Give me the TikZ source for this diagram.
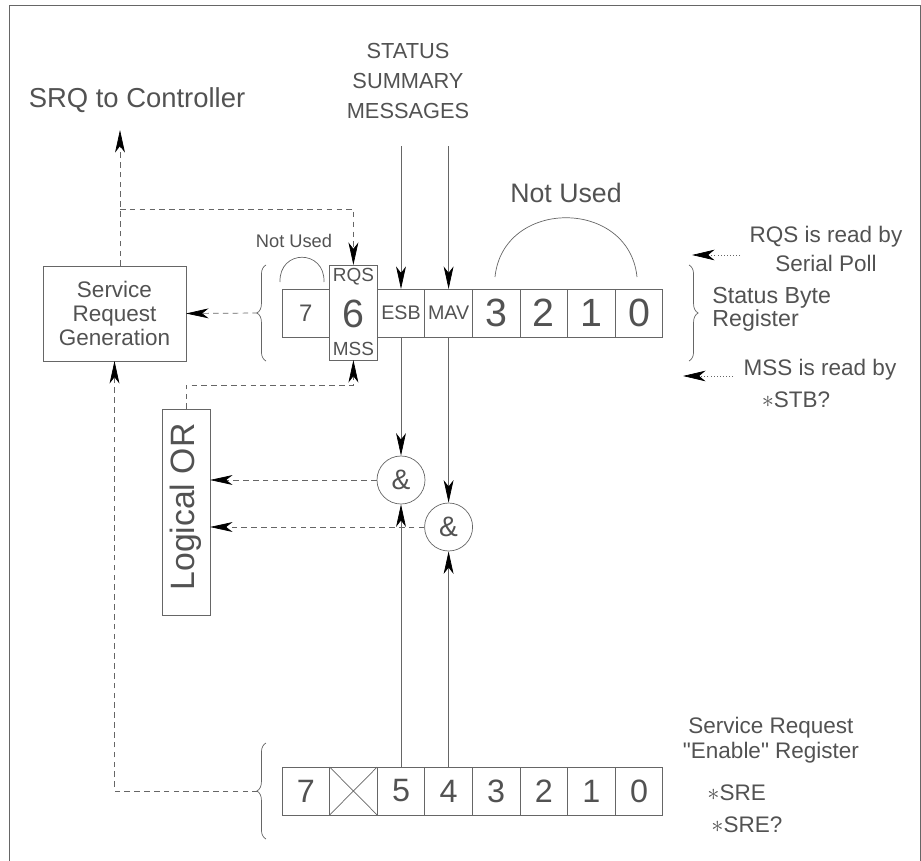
\documentclass[tikz,border=0pt]{standalone}
\usepackage{fontspec}
\setmainfont{Liberation Sans}[Ligatures=TeXOff]
\usetikzlibrary{arrows.meta, decorations.pathreplacing}

\begin{document}
\begin{tikzpicture}[
    x=0.025cm, y=-0.025cm,
    line width=0.5pt,
    every node/.style={text=black!68},
    box/.style={draw=black!60, inner sep=0pt, outer sep=0pt},
    cell/.style={box, minimum width=1.19cm, minimum height=1.2cm},
    gate/.style={circle, draw=black!60, minimum size=1.2cm, inner sep=0pt, font=\fontsize{20}{20}\selectfont},
    wire/.style={draw=black!60, -{Stealth[length=16pt, width=7pt, inset=4.5pt, black]}},
    dashwire/.style={wire, dash pattern=on 4pt off 3pt},
    dotwire/.style={draw=black!60, dash pattern=on 0.6pt off 1.6pt, -{Stealth[length=16pt, width=7.5pt, inset=4.5pt, black]}},
    curly/.style={draw=black!60, decorate, decoration={brace, amplitude=6.5pt, aspect=0.5}},
    bigtxt/.style={font=\fontsize{19.5}{23}\selectfont},
    midtxt/.style={font=\fontsize{16}{17}\selectfont, align=center},
    digit/.style={font=\fontsize{28}{28}\selectfont},
    endigit/.style={font=\fontsize{23}{23}\selectfont},
    tag/.style={font=\fontsize{14}{14}\selectfont},
  ]
  \useasboundingbox (0,0) rectangle (921,861);
  % frame
  \draw[black!60] (9,861) -- (9,5) -- (920,5) -- (920,861);

  % --- texts ---
  \node[bigtxt] (srq) at (137,100) {SRQ to Controller};
  \node[font=\fontsize{15.5}{21.5}\selectfont, align=center] (msgs) at (408,81) {STATUS\\SUMMARY\\MESSAGES};
  \node[font=\fontsize{13}{13}\selectfont] (nu1) at (294,241) {Not Used};
  \node[font=\fontsize{19}{19}\selectfont] (nu2) at (566,193) {Not Used};
  \node[font=\fontsize{16}{20}\selectfont, align=center] (rqsread) at (826,249) {RQS is read by\\Serial Poll};
  \node[font=\fontsize{16.5}{16.5}\selectfont, align=left, anchor=west, inner sep=0pt] (sbreg) at (712,309) {Status Byte\\Register};
  \node[font=\fontsize{16}{16}\selectfont] (mssread) at (820,370) {MSS is read by};
  \node[font=\fontsize{16}{16}\selectfont] (stb) at (796,400) {$\ast$STB?};
  \node[font=\fontsize{16}{17.8}\selectfont, align=center] (srereg) at (771,740) {Service Request\\"Enable" Register};
  \node[font=\fontsize{16}{16}\selectfont, anchor=west, inner sep=0pt] (sre) at (707,793) {$\ast$SRE};
  \node[font=\fontsize{16}{16}\selectfont, anchor=west, inner sep=0pt] (sreq) at (711,825) {$\ast$SRE?};

  % --- Service Request Generation and Logical OR ---
  \node[box, midtxt, minimum width=3.575cm, minimum height=2.375cm] (srg) at (114.5,313.5) {Service\\Request\\Generation};
  \node[box, minimum width=1.2cm, minimum height=5.15cm] (lor) at (186,512) {};
  \node[rotate=90, font=\fontsize{24}{24}\selectfont] (lortxt) at (186,507) {Logical OR};

  % --- status byte register ---
  \node[cell, font=\fontsize{17}{17}\selectfont] (s7) at (305.8,313) {7};
  \node[box, minimum width=1.19cm, minimum height=2.375cm] (rqs6) at (353.4,312.5) {};
  \node[digit] (six) at (353.4,314) {6};
  \node[font=\fontsize{13.5}{13.5}\selectfont] (rqslbl) at (353.4,277) {RQS};
  \node[font=\fontsize{13.5}{13.5}\selectfont] (msslbl) at (353.4,349) {MSS};
  \node[cell, tag] (esb) at (401,313) {ESB};
  \node[cell, tag] (mav) at (448.6,313) {MAV};
  \node[cell, digit] (s3) at (496.2,313) {3};
  \node[cell, digit] (s2) at (543.8,313) {2};
  \node[cell, digit] (s1) at (591.4,313) {1};
  \node[cell, digit] (s0) at (639,313) {0};

  % --- enable register ---
  \node[cell, endigit] (e7) at (305.8,791) {7};
  \node[cell] (ex) at (353.4,791) {};
  \draw[black!60] (ex.north west) -- (ex.south east) (ex.north east) -- (ex.south west);
  \node[cell, endigit] (e5) at (401,791) {5};
  \node[cell, endigit] (e4) at (448.6,791) {4};
  \node[cell, endigit] (e3) at (496.2,791) {3};
  \node[cell, endigit] (e2) at (543.8,791) {2};
  \node[cell, endigit] (e1) at (591.4,791) {1};
  \node[cell, endigit] (e0) at (639,791) {0};

  % --- AND gates ---
  \node[gate] (andA) at (401,480) {\&};
  \node[gate] (andB) at (448.6,527) {\&};

  % braces and arcs
  \draw[curly] (266,361) -- (266,265);
  \draw[curly] (689,265) -- (689,361);
  \draw[curly] (266,839) -- (266,743);
  \draw[black!60] (280,282) .. controls (279,249) and (325,249) .. (324,282);
  \draw[black!60] (495,277) .. controls (503,198) and (629,198) .. (637,277);

  \coordinate (msgin) at (0,146);
  \coordinate (srqtip) at (120,130);
  \coordinate (fork) at (120,209);
  \coordinate (sbtip) at (258,313);
  \coordinate (ebtip) at (258,791);
  \coordinate (rqsfrom) at (740,255);
  \coordinate (rqsto) at (692,255);
  \coordinate (mssfrom) at (733,376);
  \coordinate (mssto) at (683,376);

  % --- connectors ---
  \draw[wire] (esb.north |- msgin) -- (esb.north);
  \draw[wire] (mav.north |- msgin) -- (mav.north);
  \draw[wire] (esb.south) -- (andA.north);
  \draw[wire] (mav.south) -- (andB.north);
  \draw[wire] (e5.north) -- (andA.south);
  \draw[wire] (e4.north) -- (andB.south);
  \draw[dashwire] (andA.west) -- (andA.west -| lor.east);
  \draw[dashwire] (andB.west) -- (andB.west -| lor.east);
  \draw[dashwire] (lor.north) -- ++(0,-24) -| (rqs6.south);
  \draw[dashwire] (srg.north -| srqtip) -- (srqtip);
  \draw[dashwire] (fork) -| (rqs6.north);
  \draw[dashwire] (sbtip) -- (srg.east);
  \draw[dashwire] (ebtip) -| (srg.south);
  \draw[dotwire] (rqsfrom) -- (rqsto);
  \draw[dotwire] (mssfrom) -- (mssto);
\end{tikzpicture}
\end{document}
